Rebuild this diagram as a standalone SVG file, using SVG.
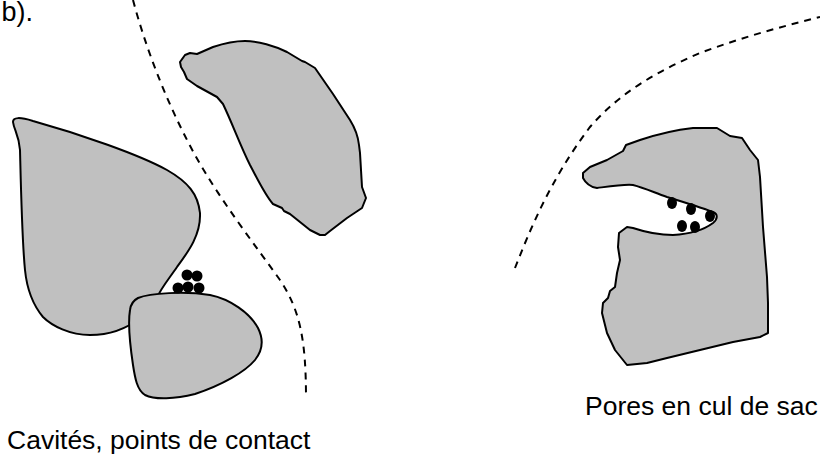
<svg xmlns="http://www.w3.org/2000/svg" width="820" height="454" viewBox="0 0 820 454">
  <style>
    .grain { fill: #c0c0c0; stroke: #000; stroke-width: 2; stroke-linejoin: round; }
    .front { fill: none; stroke: #000; stroke-width: 2; stroke-dasharray: 7 6; }
    .dot { fill: #000; }
    .label { font-family: "Liberation Sans", Arial, sans-serif; font-size: 26.5px; fill: #000; }
  </style>
  <rect width="820" height="454" fill="#fff"/>

  <text class="label" x="33" y="21" text-anchor="end" style="font-size:27px">b).</text>

  <!-- Left scene: cavities and contact points -->
  <g id="grain-large">
    <path class="grain" d="M13,122 C13,117 20,117 33,121 C80,134 140,155 167,170 C188,182 198,194 200,213 C201,235 188,252 177,267 C168,280 160,290 158,296 L140,318 C125,330 108,335 90,335 C70,335 52,326 43,317 C33,305 27,290 25,270 C22,240 21,190 20,150 C19,135 14,130 13,122 Z"/>
  </g>
  <g id="grain-small">
    <path class="grain" d="M138,298 C150,293 185,291 210,295 C230,299 250,313 258,328 C264,340 263,350 255,360 C245,372 222,385 195,394 C175,399 155,400 145,395 C137,390 135,378 133,365 C130,345 128,322 130,310 C131,303 134,300 138,298 Z"/>
  </g>
  <g id="grain-upper">
    <path class="grain" d="M180,62 L185,55 L190,53 L197,54 L213,47 C225,43 235,41 245,41 C258,41 275,46 287,52 L302,61 L305,62 L315,68 L333,94 L350,120 C355,128 358,136 359,145 L360,153 L361,170 L362,187 L366,198 L362,208 L347,218 L330,231 L325,235 L320,235 L310,230 L300,222 L290,214 L284,211 L282,208 L273,204 C265,195 258,180 250,165 C240,145 233,125 223,104 L217,97 L197,86 L187,79 L184,72 L181,67 Z"/>
  </g>
  <g id="contact-particles">
    <circle class="dot" cx="187" cy="275" r="5.5"/>
    <circle class="dot" cx="197" cy="276" r="5.5"/>
    <circle class="dot" cx="178" cy="288" r="5.5"/>
    <circle class="dot" cx="188" cy="287" r="5.5"/>
    <circle class="dot" cx="199" cy="288" r="5.5"/>
  </g>

  <!-- Right scene: dead-end pore -->
  <g id="grain-pore">
    <path class="grain" d="M583,173 L590,167 L607,160 L623,151 L626,145 L640,140 C655,135 675,130 693,128 L717,128 L730,136 L742,138 L750,150 L758,160 L760,177 L763,227 L767,277 L768,303 L768,333 L760,337 L733,342 L700,350 L667,358 L647,363 L627,365 L615,350 L607,333 L602,313 L603,303 L608,298 L610,291 L615,287 L617,273 L620,260 L618,247 L619,233 L627,227 L633,228 C645,232 660,235 673,235 C690,234 705,229 713,223 C718,219 718,214 713,212 C705,209 690,204 667,197 C655,193 645,188 633,185 C625,184 612,186 597,188 C590,187 585,182 583,178 Z"/>
  </g>
  <g id="pore-particles">
    <ellipse class="dot" cx="672" cy="203" rx="5" ry="6"/>
    <ellipse class="dot" cx="691" cy="209" rx="5" ry="6"/>
    <ellipse class="dot" cx="710" cy="216" rx="5" ry="6"/>
    <ellipse class="dot" cx="682" cy="226" rx="5" ry="6"/>
    <ellipse class="dot" cx="695" cy="227" rx="5" ry="6"/>
  </g>

  <!-- Dashed flow fronts -->
  <g id="fronts">
    <path class="front" d="M133,0 C145,45 165,100 195,155 C220,200 255,245 280,280 C300,310 306,340 306,398"/>
    <path class="front" d="M515,268 C530,230 550,180 590,127 C620,92 660,70 700,53 C740,38 780,27 820,17"/>
  </g>

  <text class="label" x="7" y="449">Cavités, points de contact</text>
  <text class="label" x="585" y="415">Pores en cul de sac</text>
</svg>
